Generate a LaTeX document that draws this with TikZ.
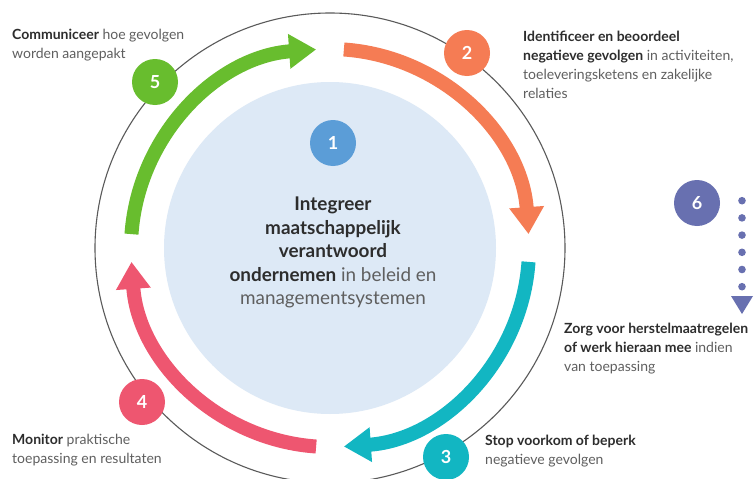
\documentclass[tikz,border=0pt]{standalone}
\usepackage{fontspec}
\setmainfont{Lato}
\usetikzlibrary{arrows.meta,calc}
\definecolor{bluefill}{RGB}{221,233,246}
\definecolor{cone}{RGB}{91,157,215}
\definecolor{cgreen}{RGB}{104,189,46}
\definecolor{corange}{RGB}{245,124,84}
\definecolor{cteal}{RGB}{18,182,194}
\definecolor{cpink}{RGB}{238,86,112}
\definecolor{cslate}{RGB}{104,112,176}
\definecolor{ringgray}{RGB}{90,90,90}
\definecolor{tdark}{RGB}{45,45,45}
\definecolor{tgray}{RGB}{95,95,95}
\newcommand{\bt}[1]{{\bfseries\color{tdark}#1}}
\begin{document}
\begin{tikzpicture}[x=1pt,y=1pt,
  numc/.style={circle, minimum size=46pt, inner sep=0pt, text=white,
    font=\fontsize{18}{18}\selectfont\bfseries},
  band/.style={line width=14pt},
  tip/.style={-{Triangle[width=33pt,length=27pt]}},
  sidetext/.style={anchor=base west, align=left, inner sep=0pt, text=tgray,
    font=\fontsize{14}{18.7}\selectfont},
  centertext/.style={anchor=base, align=center, inner sep=0pt, text=tgray,
    font=\fontsize{18.9}{23.4}\selectfont}]
\useasboundingbox (0,0) rectangle (756,-479);
\fill[white] (0,0) rectangle (756,-479);
\coordinate (C) at (330,-248);
\fill[bluefill] (C) circle[radius=166];
\draw[ringgray, line width=1.1pt] (C) circle[radius=235];
% cycle arrows
\draw[band, tip, cgreen]  ($(C)+(176:199)$) arc[start angle=176, end angle=94, radius=199];
\draw[band, tip, corange] ($(C)+(86:199)$)  arc[start angle=86,  end angle=4,  radius=199];
\draw[band, tip, cteal]   ($(C)+(-4:199)$)  arc[start angle=-4,  end angle=-86, radius=199];
\draw[band, tip, cpink]   ($(C)+(-94:199)$) arc[start angle=-94, end angle=-176, radius=199];
% number circles
\node[numc, fill=cone]    (n1) at (333,-143) {1};
\node[numc, fill=corange] (n2) at (467,-53)  {2};
\node[numc, fill=cteal]   (n3) at (446,-457) {3};
\node[numc, fill=cpink]   (n4) at (142,-402) {4};
\node[numc, fill=cgreen]  (n5) at (155,-82)  {5};
\node[numc, fill=cslate]  (n6) at (697,-203) {6};
% dotted arrow of step 6
\coordinate (d0) at (742,-200.7);
\foreach \i in {0,...,5} {\fill[cslate] ($(d0)+(0,-17.2*\i)$) circle[radius=3.8];}
\coordinate (dtip) at (742,-314);
\fill[cslate] (dtip) -- ++(-11,18) -- ++(22,0) -- cycle;
% texts (base anchor = baseline of last line)
\node[centertext] (t1) at (333,-304.5) {\bt{Integreer}\\\bt{maatschappelijk}\\\bt{verantwoord}\\\bt{ondernemen} in beleid en\\managementsystemen};
\node[sidetext] (t5) at (12,-58.5) {\bt{Communiceer} hoe gevolgen\\worden aangepakt};
\node[sidetext] (t2) at (523,-98) {\bt{Identificeer en beoordeel}\\\bt{negatieve gevolgen} in activiteiten,\\toeleveringsketens en zakelijke\\relaties};
\node[sidetext] (t6) at (564,-371) {\bt{Zorg voor herstelmaatregelen}\\\bt{of werk hieraan mee} indien\\van toepassing};
\node[sidetext] (t3) at (485,-464) {\bt{Stop voorkom of beperk}\\negatieve gevolgen};
\node[sidetext] (t4) at (12,-463) {\bt{Monitor} praktische\\toepassing en resultaten};
\end{tikzpicture}
\end{document}
